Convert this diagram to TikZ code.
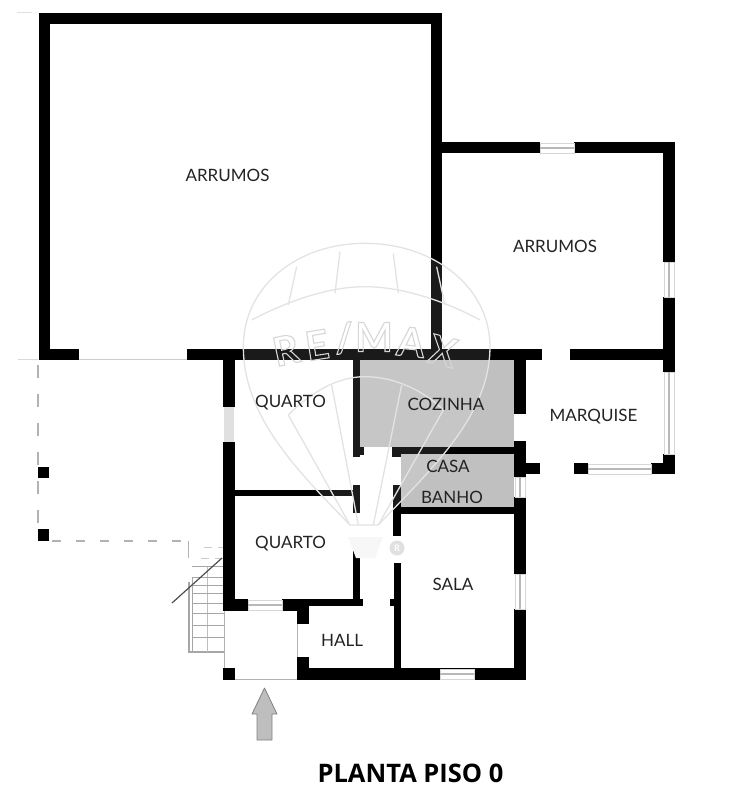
\documentclass[tikz,border=0pt]{standalone}
\usepackage{fontspec}
\setmainfont{Lato}
\newfontfamily\titlefont{Open Sans}
\usetikzlibrary{positioning}
\definecolor{wallBlack}{RGB}{0, 0, 0}
\definecolor{wetGray}{RGB}{192, 192, 192}
\definecolor{arrowGray}{RGB}{190, 190, 190}
\definecolor{labelGray}{RGB}{35, 35, 35}
\begin{document}
\begin{tikzpicture}[
        x=1pt, y=-1pt,
        wall/.style={fill=wallBlack},
        wet/.style={fill=wetGray},
        thin line/.style={draw=black!30, line width=1pt},
        glass/.style={draw=black!16, line width=0.8pt, fill=white},
        glass mid/.style={draw=black!28, line width=1.2pt},
        dash line/.style={draw=black!30, line width=1.4pt},
        stair/.style={draw=black!35, line width=0.9pt},
        mark line/.style={draw=black!11, line width=1.3pt},
        room/.style={font=\fontsize{17}{19}\selectfont, text=labelGray, inner sep=0pt}
    ]
        \useasboundingbox (0,0) rectangle (732,800);

        % Wet rooms
        \fill[wet] (360,360) rectangle (514,447);
        \fill[wet] (401,454) rectangle (514,507);

        % Terrace and porch
        \draw[thin line, black!20] (79,359) -- (187,359);
        \draw[thin line, black!15] (18,359) -- (38,359);
        \draw[thin line, black!12] (17,13) -- (32,13);
        \draw[dash line, dash pattern=on 13pt off 16pt] (38,365) -- (38,528);
        \draw[dash line, dash pattern=on 9pt off 15pt] (52,541) -- (187,541);
        \draw[thin line] (188,541) -- (188,558);
        \draw[thin line, black!20, dash pattern=on 8pt off 6pt] (204,547) -- (223,547) (201,558) -- (223,558);
        \draw[thin line] (224,611) -- (224,679) -- (297,679) -- (297,624);

        % Stairs
        \draw[stair, line width=1.4pt] (189,582) -- (189,652) -- (224,652);
        \draw[stair] (192,578) -- (192,652);
        \draw[stair, black!25] (207,566) -- (207,652);
        \foreach \ty in {566,577,585,593,603,613,625,637} {
            \draw[stair] (192,\ty) -- (224,\ty);
        }
        \draw[black!70, line width=1.2pt] (172,603) -- (222,558);

        % Walls
        \foreach \xa/\ya/\xb/\yb in {
            39/13/442/24, 39/13/50/360, 431/13/442/350, 39/349/79/360,
            187/349/542/360, 570/349/675/360,
            431/142/540/153, 574/142/675/153, 663/142/675/262, 663/297/675/372,
            663/454/675/474, 651/463/675/474, 574/463/588/474, 514/463/540/474,
            514/360/526/414, 514/441/526/477, 514/497/526/574, 514/609/526/680,
            297/668/526/680,
            353/360/360/457, 353/447/364/455, 392/447/514/454, 392/447/401/457,
            394/507/514/514, 393/485/401/536, 394/563/401/668, 390/599/394/606,
            223/360/235/407, 223/442/235/609, 235/490/353/496, 353/485/360/513,
            353/541/360/600, 283/599/363/606, 223/599/248/611, 282/599/309/611,
            297/599/309/624, 297/657/309/680, 223/668/235/680,
            38/467/49/478, 38/529/49/541
        } {
            \fill[wall] (\xa,\ya) rectangle (\xb,\yb);
        }

        % Windows
        \foreach \xa/\xb/\ya in {540/574/143, 588/651/464, 440/474/669, 248/282/600} {
            \fill[white] (\xa,\ya) rectangle (\xb,\ya+10);
            \draw[glass] (\xa,\ya) rectangle (\xb,\ya+10);
            \draw[glass mid] (\xa,\ya+5) -- (\xb,\ya+5);
        }
        \foreach \ya/\yb/\xa in {262/297/664, 372/454/664, 477/497/515, 574/609/515} {
            \fill[white] (\xa,\ya) rectangle (\xa+10,\yb);
            \draw[glass] (\xa,\ya) rectangle (\xa+10,\yb);
            \draw[glass mid] (\xa+5,\ya) -- (\xa+5,\yb);
        }
        \fill[black!12] (224,407) rectangle (234,442);

        % Watermark
        \begin{scope}[shift={(230,230)}, x=0.3333pt, y=-0.3333pt]
            \fill[white, opacity=0.1] (360,885) .. controls (200,720) and (40,560) .. (40,350)
                .. controls (40,170) and (200,40) .. (405,40)
                .. controls (610,40) and (780,170) .. (780,350)
                .. controls (780,560) and (600,720) .. (445,885) -- cycle;
            \draw[mark line] (360,885) .. controls (200,720) and (40,560) .. (40,350)
                .. controls (40,170) and (200,40) .. (405,40)
                .. controls (610,40) and (780,170) .. (780,350)
                .. controls (780,560) and (600,720) .. (445,885) -- cycle;
            \draw[mark line] (65,270) .. controls (180,210) and (300,170) .. (405,170) .. controls (510,170) and (640,210) .. (750,270);
            \draw[mark line] (200,110) -- (175,225);
            \draw[mark line] (330,65) -- (315,190);
            \draw[mark line] (490,70) -- (505,190);
            \draw[mark line] (620,110) -- (645,225);
            \draw[mark line] (175,555) .. controls (240,490) and (320,440) .. (405,440) .. controls (490,440) and (580,480) .. (640,540);
            \draw[mark line] (175,555) -- (360,885);
            \draw[mark line] (305,465) -- (385,885);
            \draw[mark line] (515,465) -- (430,885);
            \draw[mark line] (640,540) -- (445,885);
        \end{scope}
        \foreach \letter/\lx/\ly/\lrot in {R/286/350/12, E/317/345/9, {/}/344/338/4, M/374/337/0, A/411/342/-6, X/443/351/-14} {
            \node[font=\bfseries\fontsize{40}{40}\selectfont, text=black!16, inner sep=0pt, rotate=\lrot] (mark\lx) at (\lx,\ly) {\special{pdf:code 1 Tr 1.1 w}\letter\special{pdf:code 0 Tr}};
        }
        \fill[black!3] (348,537) -- (383,537) -- (375,558) -- (356,558) -- cycle;
        \node[circle, fill=black!12, text=white, minimum size=15pt, inner sep=0pt, font=\bfseries\fontsize{9}{9}\selectfont] (regmark) at (397,548) {R};

        % Rooms
        \node[room] (arrumosbig) at (227.5,175) {ARRUMOS};
        \node[room] (arrumossmall) at (555,246) {ARRUMOS};
        \node[room] (quartotop) at (290.5,403) {QUARTO};
        \node[room] (quartolow) at (290.5,544) {QUARTO};
        \node[room] (cozinha) at (446,404) {COZINHA};
        \node[room] (marquise) at (593.5,417) {MARQUISE};
        \node[room] (casa) at (448,466) {CASA};
        \node[room] (banho) at (452,497) {BANHO};
        \node[room] (sala) at (453,584) {SALA};
        \node[room] (hall) at (342,640) {HALL};

        % Entrance arrow and title
        \draw[draw=black!50, fill=arrowGray, line width=0.8pt, line join=round] (264.5,688) -- (277,714) -- (272,714) -- (272,740) -- (257,740) -- (257,714) -- (252,714) -- cycle;
        \node[font=\titlefont\bfseries\fontsize{25.5}{27}\selectfont, inner sep=0pt] (planta) at (410.5,773) {PLANTA PISO 0};
    \end{tikzpicture}
\end{document}
